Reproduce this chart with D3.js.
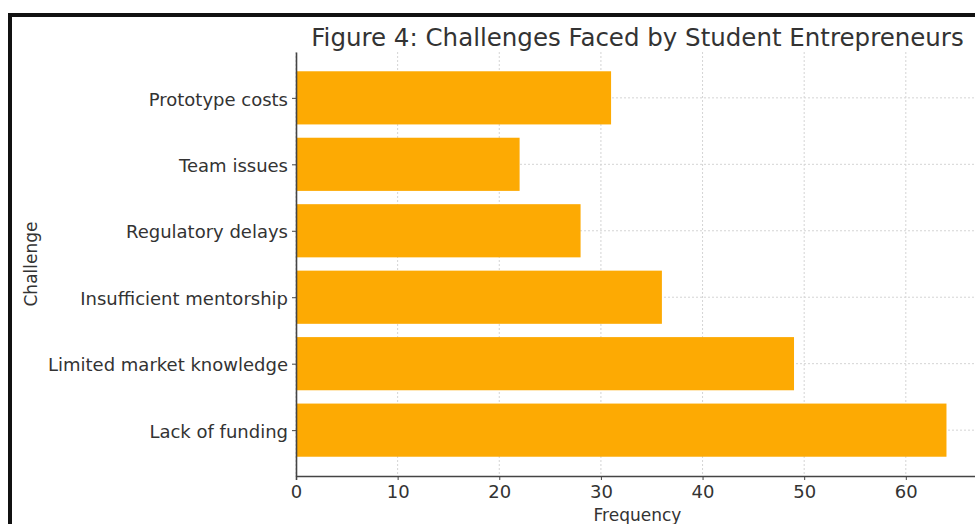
<!DOCTYPE html>
<html>
<head>
<meta charset="utf-8">
<script src="https://cdn.jsdelivr.net/npm/d3@7"></script>
<style>
  html, body { margin: 0; padding: 0; background: #fff; }
  svg { display: block; font-family: "DejaVu Sans", sans-serif; }
</style>
</head>
<body>
<svg id="chart" width="975" height="524"></svg>
<script>
// Challenges, bottom to top as they are stacked on the y axis
const challenges = [
  "Lack of funding",
  "Limited market knowledge",
  "Insufficient mentorship",
  "Regulatory delays",
  "Team issues",
  "Prototype costs"
];
const frequencies = [64, 49, 36, 28, 22, 31];
const xTicks = [0, 10, 20, 30, 40, 50, 60];

const titleText = "Figure 4: Challenges Faced by Student Entrepreneurs";
const xLabel = "Frequency";
const yLabel = "Challenge";

const svg = d3.select("#chart");
const W = 975, H = 524;
const plot = { left: 296, right: 979, top: 52, bottom: 476 };
const textColor = "#333";
const tickFont = 18;

// frame around the figure
svg.append("path")
  .attr("d", `M10,${H} L10,15 L${W},15`)
  .attr("fill", "none")
  .attr("stroke", "#111")
  .attr("stroke-width", 4);

const maxV = d3.max(frequencies);
const x = d3.scaleLinear()
  .domain([0, maxV * 1.05])
  .range([plot.left, plot.right]);

// band positions follow matplotlib's barh layout: bar height 0.8, 5% margins
const n = challenges.length;
const lo = -0.4 - 0.05 * (n - 1 + 0.8);
const hi = (n - 1) + 0.4 + 0.05 * (n - 1 + 0.8);
const yPos = d3.scaleLinear().domain([lo, hi]).range([plot.bottom, plot.top]);
const y = i => yPos(i);
const barH = yPos(0) - yPos(0.8);

const grid = svg.append("g").attr("class", "grid");
grid.selectAll("line.v")
  .data(xTicks)
  .join("line")
  .attr("class", "v")
  .attr("x1", d => x(d)).attr("x2", d => x(d))
  .attr("y1", plot.top).attr("y2", plot.bottom)
  .attr("stroke", "#d4d4d4")
  .attr("stroke-width", 1)
  .attr("stroke-dasharray", "2,2");
grid.selectAll("line.h")
  .data(challenges)
  .join("line")
  .attr("class", "h")
  .attr("x1", plot.left).attr("x2", W)
  .attr("y1", (d, i) => y(i)).attr("y2", (d, i) => y(i))
  .attr("stroke", "#d4d4d4")
  .attr("stroke-width", 1)
  .attr("stroke-dasharray", "2,2");

// bars
svg.append("g")
  .selectAll("rect")
  .data(frequencies)
  .join("rect")
  .attr("x", x(0))
  .attr("y", (d, i) => y(i) - barH / 2)
  .attr("width", d => x(d) - x(0))
  .attr("height", barH)
  .attr("fill", "#fdaa03");

// x axis
const xAxis = d3.axisBottom(x).tickValues(xTicks).tickSize(4).tickPadding(5).tickFormat(d3.format("d"));
const gx = svg.append("g")
  .attr("transform", `translate(0,${plot.bottom})`)
  .call(xAxis);
gx.select(".domain").attr("stroke", "#444").attr("stroke-width", 1.6);
gx.selectAll(".tick line").attr("stroke", "#444");
gx.selectAll(".tick text")
  .attr("font-size", tickFont)
  .attr("fill", textColor)
  .attr("font-family", "DejaVu Sans, sans-serif");

// y axis drawn from the band positions
const yAxis = d3.axisLeft(yPos)
  .tickValues(d3.range(n))
  .tickFormat(i => challenges[i])
  .tickSize(4).tickPadding(4).tickSizeOuter(0);
const gy = svg.append("g")
  .attr("transform", `translate(${plot.left},0)`)
  .call(yAxis);
gy.select(".domain").attr("stroke", "#444").attr("stroke-width", 1.6);
gy.selectAll(".tick line").attr("stroke", "#444");
gy.selectAll(".tick text")
  .attr("font-size", tickFont)
  .attr("fill", textColor)
  .attr("dy", "0.4em")
  .attr("font-family", "DejaVu Sans, sans-serif");

// title and axis labels
svg.append("text")
  .attr("x", (plot.left + plot.right) / 2)
  .attr("y", 46)
  .attr("text-anchor", "middle")
  .attr("font-size", 24.5)
  .attr("fill", textColor)
  .text(titleText);

svg.append("text")
  .attr("x", (plot.left + plot.right) / 2)
  .attr("y", 521)
  .attr("text-anchor", "middle")
  .attr("font-size", 17)
  .attr("fill", textColor)
  .text(xLabel);

svg.append("text")
  .attr("transform", `translate(37,${(plot.top + plot.bottom) / 2}) rotate(-90)`)
  .attr("text-anchor", "middle")
  .attr("font-size", 17)
  .attr("fill", textColor)
  .text(yLabel);
</script>
</body>
</html>
